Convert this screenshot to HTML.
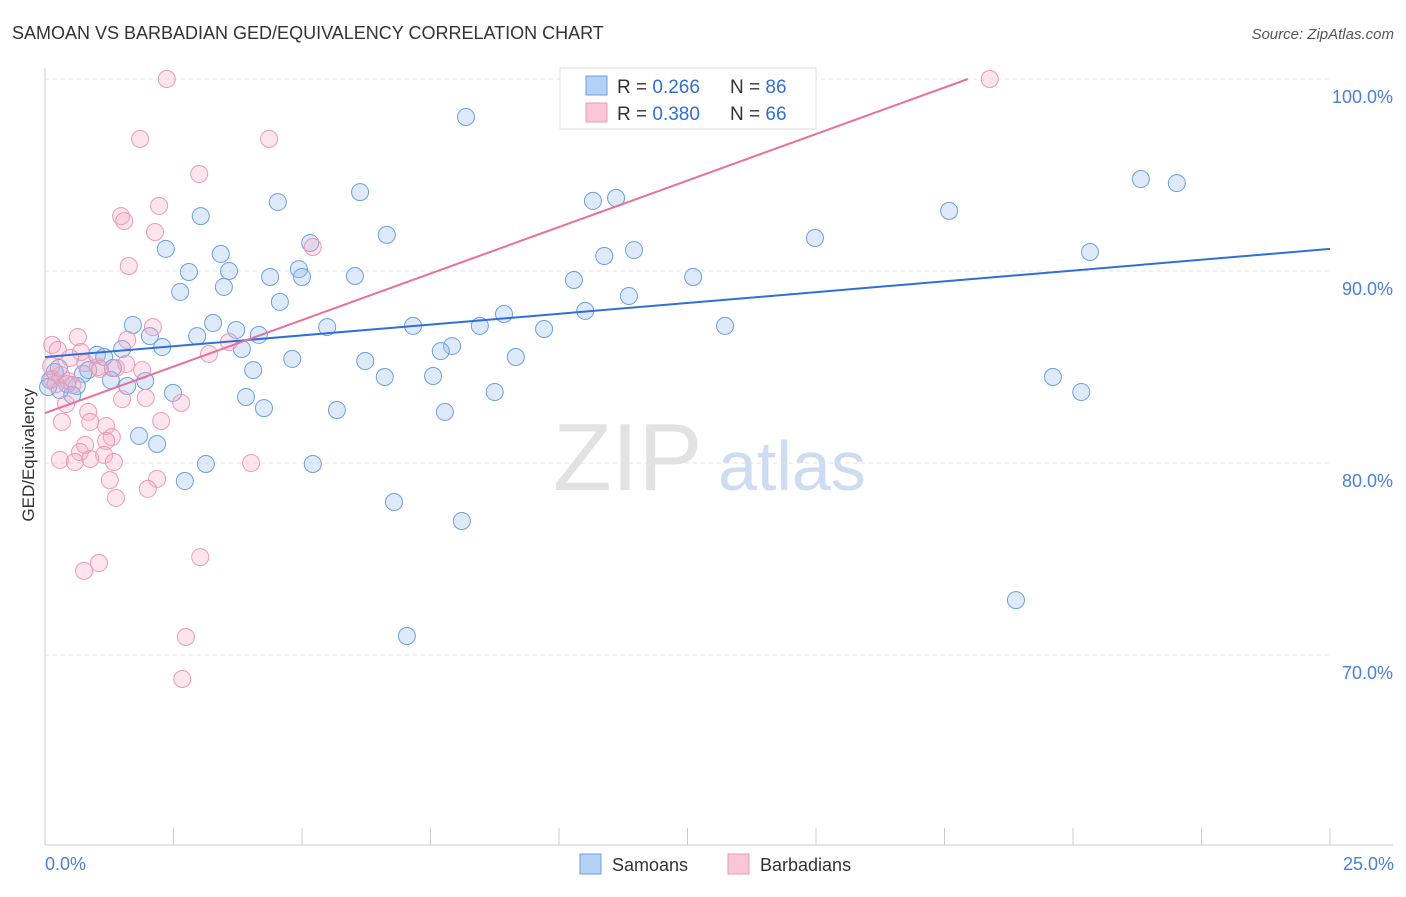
<!DOCTYPE html>
<html><head><meta charset="utf-8"><style>
body{margin:0;background:#fff;font-family:"Liberation Sans",sans-serif;}
svg text{font-family:"Liberation Sans",sans-serif;}
</style></head><body>
<svg id="chart" width="1406" height="892" xmlns="http://www.w3.org/2000/svg">
<text x="12" y="39" font-size="18" fill="#333">SAMOAN VS BARBADIAN GED/EQUIVALENCY CORRELATION CHART</text>
<text x="1394" y="39" font-size="15" fill="#555" text-anchor="end" font-style="italic">Source: ZipAtlas.com</text>
<g>
<text x="553" y="490" font-size="96" fill="#e2e2e2" font-family="Liberation Serif">ZIP</text>
<text x="718" y="490" font-size="70" fill="#cddcf0">atlas</text>
</g>
<g id="grid"></g>
<g id="axes"></g>
<g id="pts"></g>
<g id="lines"></g>
<text transform="translate(34,455) rotate(-90)" font-size="17" fill="#333" text-anchor="middle">GED/Equivalency</text>
<text x="45" y="870" font-size="18" fill="#4a7fd6">0.0%</text>
<text x="1394" y="870" font-size="18" fill="#4a7fd6" text-anchor="end">25.0%</text>
<g>
<rect x="560" y="68" width="256" height="61" fill="#fff" stroke="#ddd"/>
<rect x="586" y="76" width="21" height="19" fill="#b5d0f5" stroke="#6a9fe0"/>
<rect x="586" y="103" width="21" height="19" fill="#f8c6d6" stroke="#eb9ab5"/>
<text x="617" y="93" font-size="19" fill="#333">R = <tspan fill="#2f6fd6">0.266</tspan></text>
<text x="730" y="93" font-size="19" fill="#333">N = <tspan fill="#2f6fd6">86</tspan></text>
<text x="617" y="120" font-size="19" fill="#333">R = <tspan fill="#2f6fd6">0.380</tspan></text>
<text x="730" y="120" font-size="19" fill="#333">N = <tspan fill="#2f6fd6">66</tspan></text>
</g>
<g>
<rect x="580" y="854" width="21" height="20" fill="#b5d0f5" stroke="#6a9fe0"/>
<text x="612" y="871" font-size="18" fill="#333">Samoans</text>
<rect x="728" y="854" width="21" height="20" fill="#f8c6d6" stroke="#eb9ab5"/>
<text x="760" y="871" font-size="18" fill="#333">Barbadians</text>
</g>
</svg>
<script>
const yTicks=[100,90,80,70];
const yTickLabels=["100.0%","90.0%","80.0%","70.0%"];
const xTickVals=[0,2.5,5,7.5,10,12.5,15,17.5,20,22.5,25];
const samoanX=[8.19,21.32,22.02,6.13,4.53,10.66,11.11,3.03,17.59,6.65,14.98,2.35,5.16,11.46,20.33,3.42,10.88,2.80,3.58,4.38,4.94,5.00,6.03,10.29,12.61,3.48,2.63,11.36,4.57,8.93,10.51,3.27,1.71,5.49,7.16,8.46,13.23,9.71,3.72,2.96,2.04,4.16,2.28,1.50,7.92,7.70,3.83,1.01,1.15,4.81,6.23,9.16,4.05,0.27,0.74,1.32,6.61,7.55,1.95,1.28,1.60,0.62,0.43,19.61,20.16,0.53,3.91,2.49,8.75,4.26,5.68,7.78,1.83,2.18,3.13,5.21,2.72,6.79,8.11,18.89,7.04,0.10,0.19,0.84,0.29,0.06];
const samoanY=[98.02,94.79,94.58,94.11,93.59,93.65,93.80,92.86,93.13,91.88,91.72,91.15,91.46,91.09,90.99,90.89,90.78,89.95,90.00,89.69,90.10,89.69,89.74,89.53,89.69,89.17,88.91,88.70,88.39,87.76,87.92,87.29,87.19,87.08,87.14,87.14,87.14,86.98,86.93,86.61,86.61,86.67,86.04,85.94,86.09,85.83,85.94,85.63,85.52,85.42,85.31,85.52,84.84,84.95,84.64,84.95,84.48,84.53,84.27,84.32,84.01,84.01,84.11,84.48,83.70,83.54,83.44,83.65,83.70,82.86,82.76,82.66,81.41,80.99,79.95,79.95,79.06,77.97,76.98,72.86,70.99,84.32,84.74,84.84,83.80,83.96];
const barbX=[2.37,18.38,1.85,4.36,3.00,2.22,1.48,1.54,2.14,5.21,1.63,0.14,0.25,0.64,2.10,1.60,3.58,3.19,0.70,0.49,0.78,1.03,1.38,1.58,1.07,1.89,0.31,0.14,0.45,0.21,0.53,1.50,1.96,2.65,0.41,0.84,0.88,0.33,1.19,2.26,1.30,0.78,1.19,0.68,1.15,0.29,0.58,0.88,1.34,4.01,2.18,1.26,2.00,1.38,3.02,1.05,0.76,2.74,2.67,0.12];
const barbY=[100,100,96.88,96.88,95.05,93.39,92.86,92.60,92.03,91.25,90.26,86.15,85.89,86.56,87.08,86.41,86.30,85.68,85.78,85.47,85.21,85.00,84.95,85.16,84.90,84.84,84.58,84.38,84.27,84.11,84.06,83.33,83.39,83.13,83.07,82.66,82.14,82.14,81.93,82.19,81.35,80.94,81.15,80.57,80.42,80.16,80.05,80.21,80.05,80.00,79.17,79.11,78.65,78.18,75.10,74.79,74.38,70.94,68.75,85.05];
const samoanTrend=[85.52,91.15];
const barbTrend=[82.60,0.969];
const X0=45,X1=1330,Y100=79,PXPER=19.2;
const sx=v=>X0+(v/25)*(X1-X0);
const sy=v=>Y100+(100-v)*PXPER;
const NS="http://www.w3.org/2000/svg";
function mk(tag,attrs,parent){const e=document.createElementNS(NS,tag);for(const k in attrs)e.setAttribute(k,attrs[k]);parent.appendChild(e);return e;}
const grid=document.getElementById('grid'),axes=document.getElementById('axes'),pts=document.getElementById('pts'),lines=document.getElementById('lines');
yTicks.forEach((t,i)=>{
  const l=mk('line',{x1:X0,x2:X1,y1:sy(t),y2:sy(t),stroke:'#e2e2e2','stroke-dasharray':'4,4'},grid);
  
  
  const tx=mk('text',{x:1393,y:sy(t)+24,'font-size':18,fill:'#4a7fd6','text-anchor':'end'},axes);
  tx.textContent=yTickLabels[i];
  
  
});
const ya=mk('line',{x1:X0,x2:X0,y1:68,y2:845,stroke:'#ccc'},axes);


const xa=mk('line',{x1:X0,x2:1393,y1:845,y2:845,stroke:'#ccc'},axes);


xTickVals.forEach(v=>{
  const t=mk('line',{x1:sx(v),x2:sx(v),y1:828,y2:845,stroke:'#ccc'},axes);
  
  
});
samoanX.forEach((x,i)=>{
  const c=mk('circle',{cx:sx(x),cy:sy(samoanY[i]),r:8.5,fill:'rgba(160,196,240,0.35)',stroke:'#6a9fe0','stroke-width':1},pts);
  
  
});
barbX.forEach((x,i)=>{
  const c=mk('circle',{cx:sx(x),cy:sy(barbY[i]),r:8.5,fill:'rgba(245,170,195,0.3)',stroke:'#eb9ab5','stroke-width':1},pts);
  
  
});
const bl=mk('line',{x1:sx(0),y1:sy(samoanTrend[0]),x2:sx(25),y2:sy(samoanTrend[1]),stroke:'#2f6fd6','stroke-width':2},lines);


const xEnd=Math.min(25,(100-barbTrend[0])/barbTrend[1]);
const pl=mk('line',{x1:sx(0),y1:sy(barbTrend[0]),x2:sx(xEnd),y2:sy(barbTrend[0]+barbTrend[1]*xEnd),stroke:'#e8709a','stroke-width':2},lines);


</script>
</body></html>
